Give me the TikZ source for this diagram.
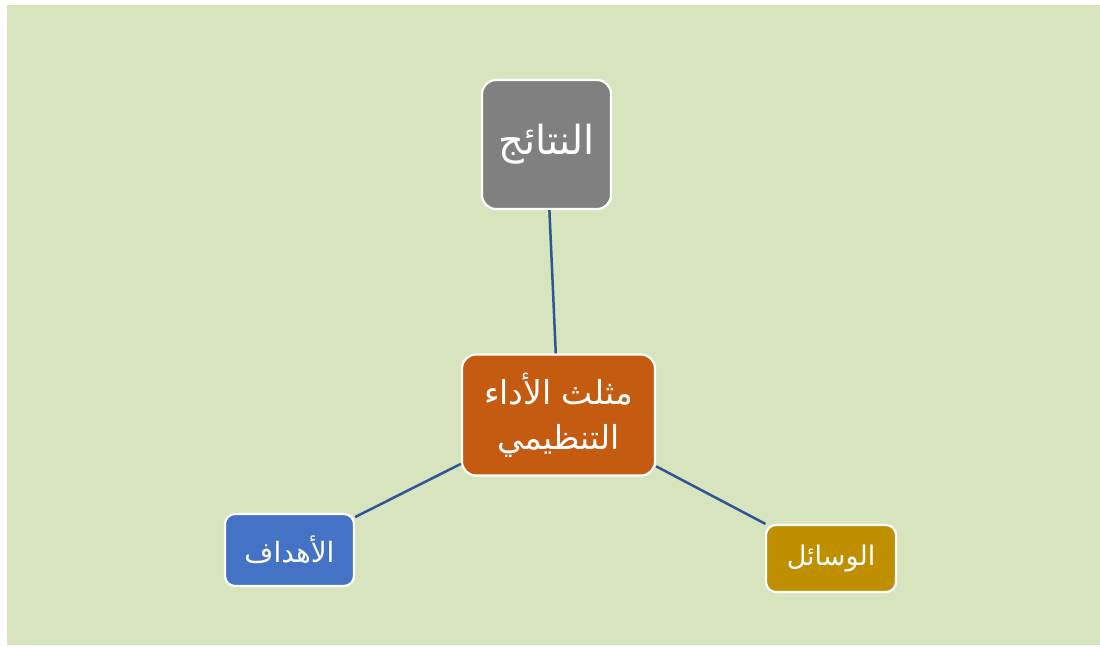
\documentclass[tikz,border=0pt]{standalone}
\usepackage{fontspec}
\newfontfamily\arabicfont[Script=Arabic]{DejaVu Sans}
\TeXXeTstate=1
\usetikzlibrary{positioning}
\definecolor{bggreen}{HTML}{D7E4BD}
\definecolor{boxgray}{HTML}{808080}
\definecolor{boxorange}{HTML}{C55A11}
\definecolor{boxblue}{HTML}{4472C4}
\definecolor{boxgold}{HTML}{BF8F00}
\definecolor{linkblue}{HTML}{2F5597}
\tikzset{
  box/.style={draw=white, line width=2.2pt, rounded corners=14pt, text=white, align=center, inner sep=2pt},
  link/.style={draw=linkblue, line width=2.5pt}
}

\begin{document}
\begin{tikzpicture}[x=1pt,y=-1pt]
  \useasboundingbox (0,0) rectangle (1100,647);
  \fill[bggreen] (7,5) rectangle (1100,645); % background
  \node[box, fill=boxgray, minimum width=129pt, minimum height=129pt,
        font=\arabicfont\fontsize{40}{48}\selectfont] (natayij) at (546.5,144.5) {\beginR النتائج\endR};
  \node[box, fill=boxorange, minimum width=193pt, minimum height=121pt,
        font=\arabicfont\fontsize{33}{45}\selectfont] (muthallath) at (558.5,415)
        {\beginR مثلث الأداء\endR\\\beginR التنظيمي\endR};
  \node[box, fill=boxblue, rounded corners=10pt, minimum width=129pt, minimum height=72pt,
        font=\arabicfont\fontsize{28}{34}\selectfont] (ahdaf) at (289.5,550) {\beginR الأهداف\endR};
  \node[box, fill=boxgold, rounded corners=10pt, minimum width=130pt, minimum height=67pt,
        font=\arabicfont\fontsize{27}{32}\selectfont] (wasail) at (831,558.5) {\beginR الوسائل\endR};
  \draw[link] (natayij) -- (muthallath);
  \draw[link] (ahdaf) -- (muthallath);
  \draw[link] (wasail) -- (muthallath);
\end{tikzpicture}
\end{document}
